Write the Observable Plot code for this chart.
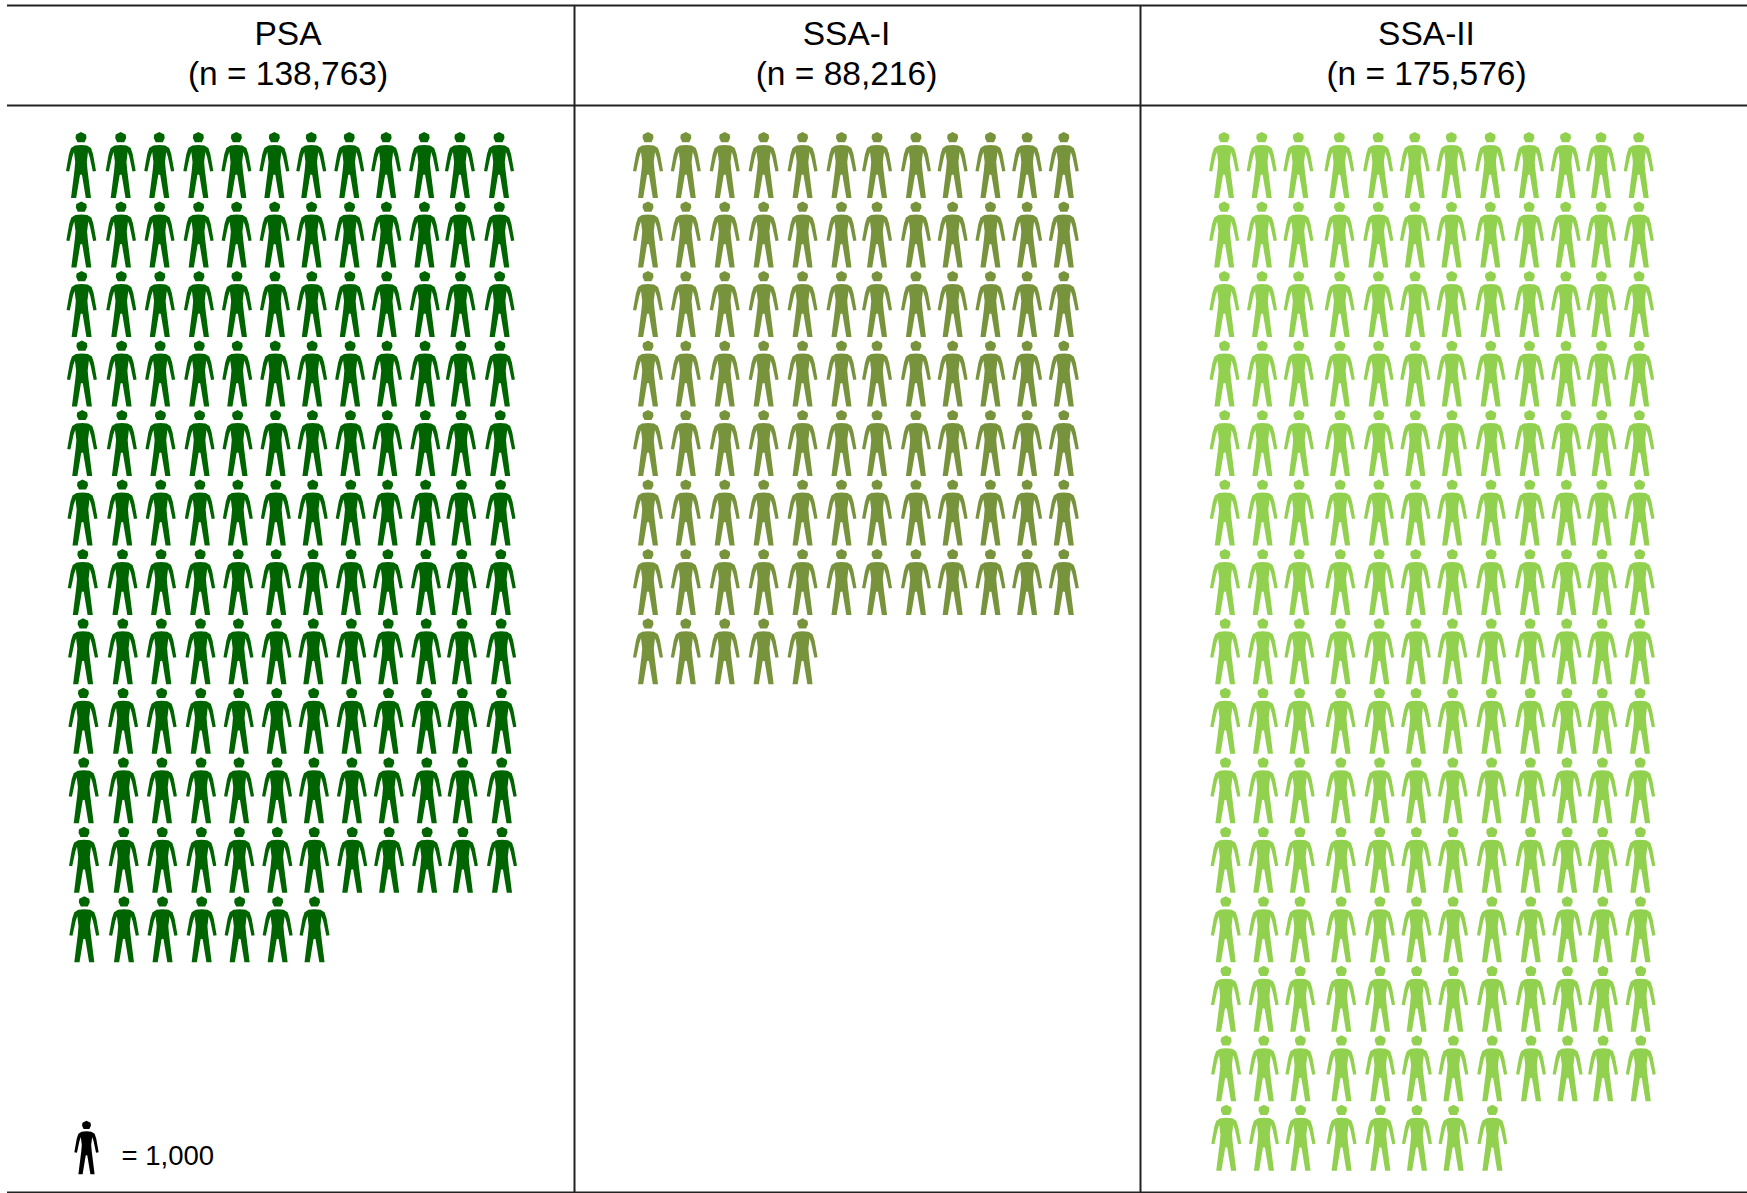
<!DOCTYPE html>
<html><head><meta charset="utf-8">
<script src="https://cdn.jsdelivr.net/npm/d3@7"></script>
<script src="https://cdn.jsdelivr.net/npm/@observablehq/plot@0.6"></script>
<style>html,body{margin:0;padding:0;background:#fff}svg{display:block}</style>
</head><body><div id="c"></div>
<script>
// Data
const groups = ["PSA", "SSA-I", "SSA-II"];
const sampleSizes = [138763, 88216, 175576];
const iconCounts = [139, 89, 176];
const iconsPerRow = 12;
const legendValue = 1000;
const seriesColors = ["#006400", "#77933C", "#92D050"];

// Layout (pixels of the 1747x1193 page, separate from the data)
const W = 1747, H = 1193;
const originX = [80.5, 647.5, 1223.5], pitchX = [38.0, 37.8, 37.7], rowSkew = [0.3, 0, 0.16];
const columnNudge = [
  [0,1.5,2,3,3,3,2,2,1,1,-1,0],
  [0,0,1,2,3,4,2,3,2,2,1,0],
  [0,0,-1,2,3,2,1,2,3,2,0,0]
];
const originY = 164.5, pitchY = 69.48;
const centers = [287.5, 846, 1426];

const half = [[0,-20],[6,-19.5],[10,-17],[12,-11],[15,6],[11.8,6.5],[8.7,-8],[7,-13],[5.8,-3],[6.5,5],[10,33],[4.8,33],[1,10],[0,9.5]];
const headShape = [[0,-33],[5,-30.5],[5.5,-27],[3.5,-22.8],[-3.5,-22.8],[-5.5,-27],[-5,-30.5]];
const person = {draw(ctx, size) {
  const k = Math.sqrt(size) / 30;
  ctx.moveTo(half[0][0]*k, half[0][1]*k);
  for (const [x,y] of half.slice(1)) ctx.lineTo(x*k, y*k);
  for (const [x,y] of [...half].reverse()) ctx.lineTo(-x*k, y*k);
  ctx.closePath();
  headShape.forEach(([x,y], i) => i ? ctx.lineTo(x*k, y*k) : ctx.moveTo(x*k, y*k));
  ctx.closePath();
}};
const r30 = 30 / Math.sqrt(Math.PI);

const icons = groups.flatMap((g, i) => d3.range(iconCounts[i]).map(n => {
  const col = n % iconsPerRow, row = Math.floor(n / iconsPerRow);
  return {
    group: g,
    x: originX[i] + col * pitchX[i] + columnNudge[i][col] * 1.114 + row * rowSkew[i],
    y: originY + row * pitchY
  };
}));
const heads = groups.map((g, i) => ({g, x: centers[i], line1: g, line2: `(n = ${d3.format(",")(sampleSizes[i])})`}));

const plot = Plot.plot({
  width: W, height: H, margin: 0,
  x: {domain: [0, W], range: [0, W], axis: null},
  y: {domain: [0, H], range: [0, H], axis: null},
  color: {domain: groups, range: seriesColors},
  style: {fontFamily: "'Liberation Sans', Arial, sans-serif", background: "#fff"},
  marks: [
    Plot.ruleY([5, 105, 1192], {x1: 7, x2: W, stroke: "#222", strokeWidth: 2}),
    Plot.ruleX([574, 1140], {y1: 5, y2: 1192, stroke: "#222", strokeWidth: 2}),
    Plot.text(heads, {x: "x", y: 34, text: "line1", fontSize: 33.5, fill: "#000"}),
    Plot.text(heads, {x: "x", y: 74, text: "line2", fontSize: 33.5, fill: "#000"}),
    Plot.dot(icons, {x: "x", y: "y", fill: "group", stroke: "none", symbol: person, r: r30}),
    Plot.dot([legendValue], {x: 86, y: 1147, fill: "#000", stroke: "none", symbol: person, r: r30 * 0.81}),
    Plot.text([legendValue], {x: 121, y: 1156, text: d => `= ${d3.format(",")(d)}`, textAnchor: "start", fontSize: 27.5, fill: "#000"})
  ]
});
document.getElementById("c").append(plot);
</script></body></html>
